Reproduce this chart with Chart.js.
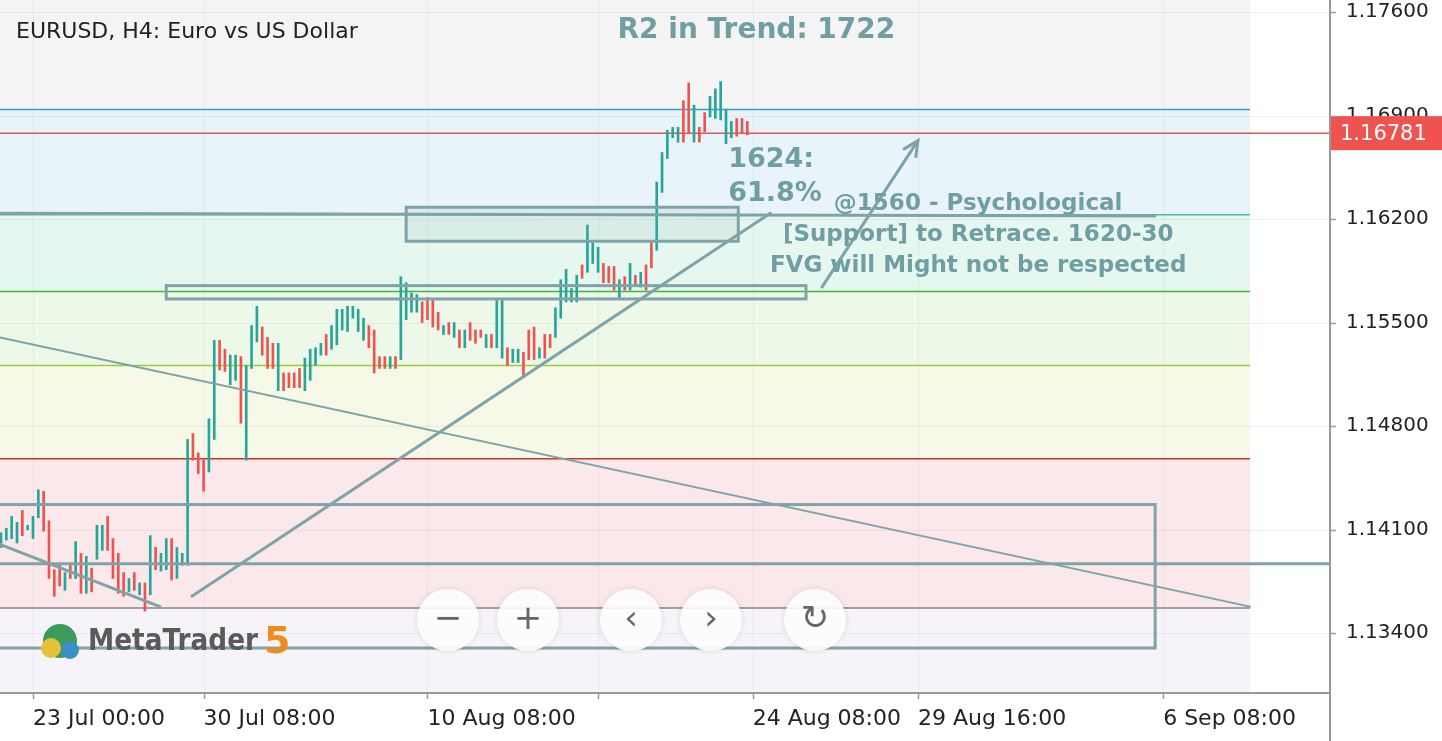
<!DOCTYPE html>
<html><head><meta charset="utf-8">
<script src="https://cdn.jsdelivr.net/npm/chart.js@4.4.0/dist/chart.umd.min.js"></script>
<style>html,body{margin:0;padding:0;background:#fff;overflow:hidden}#wrap{position:relative;width:1442px;height:741px}</style>
</head><body><div id="wrap"><canvas id="c" width="1442" height="741"></canvas></div>
<script>
const highs=[1.1408,1.1411,1.1419,1.1415,1.1423,1.1413,1.1419,1.1437,1.1436,1.1416,1.1383,1.1386,1.1381,1.1387,1.1402,1.1394,1.1392,1.1384,1.1413,1.1413,1.1419,1.1404,1.1394,1.1381,1.1377,1.1381,1.1374,1.1374,1.1406,1.1398,1.1394,1.1404,1.1404,1.1398,1.1394,1.1471,1.1475,1.1462,1.1457,1.1485,1.1538,1.1538,1.1532,1.1528,1.1528,1.1527,1.1521,1.1548,1.1561,1.1547,1.1540,1.1536,1.1536,1.1516,1.1516,1.1516,1.1519,1.1526,1.1532,1.1533,1.1536,1.1542,1.1548,1.1559,1.1559,1.1561,1.1561,1.1559,1.1553,1.1548,1.1545,1.1527,1.1527,1.1527,1.1527,1.1581,1.1577,1.1570,1.1569,1.1564,1.1567,1.1565,1.1557,1.1548,1.1550,1.1550,1.1545,1.1545,1.1550,1.1545,1.1545,1.1542,1.1542,1.1565,1.1565,1.1533,1.1532,1.1532,1.1530,1.1545,1.1547,1.1533,1.1542,1.1542,1.1560,1.1579,1.1586,1.1573,1.1582,1.1589,1.1616,1.1604,1.1601,1.1590,1.1588,1.1588,1.1579,1.1581,1.1590,1.1582,1.1584,1.1589,1.1604,1.1645,1.1665,1.1680,1.1682,1.1682,1.1700,1.1712,1.1697,1.1682,1.1692,1.1703,1.1708,1.1713,1.1694,1.1686,1.1688,1.1688,1.1686];
const lows=[1.1398,1.1403,1.1404,1.1401,1.1406,1.1410,1.1404,1.1418,1.1409,1.1377,1.1365,1.1372,1.1369,1.1377,1.1377,1.1367,1.1367,1.1368,1.1390,1.1396,1.1396,1.1377,1.1367,1.1365,1.1368,1.1369,1.1366,1.1355,1.1366,1.1383,1.1382,1.1383,1.1376,1.1377,1.1386,1.1386,1.1457,1.1448,1.1436,1.1449,1.1471,1.1518,1.1517,1.1508,1.1511,1.1482,1.1457,1.1519,1.1537,1.1528,1.1519,1.1519,1.1504,1.1504,1.1506,1.1506,1.1506,1.1504,1.1511,1.1521,1.1528,1.1528,1.1532,1.1535,1.1545,1.1544,1.1553,1.1544,1.1538,1.1533,1.1516,1.1519,1.1519,1.1519,1.1519,1.1525,1.1552,1.1557,1.1557,1.1550,1.1552,1.1547,1.1545,1.1542,1.1542,1.1540,1.1533,1.1533,1.1538,1.1536,1.1540,1.1533,1.1533,1.1533,1.1526,1.1521,1.1523,1.1523,1.1513,1.1525,1.1525,1.1526,1.1526,1.1533,1.1540,1.1553,1.1564,1.1564,1.1564,1.1580,1.1584,1.1590,1.1584,1.1577,1.1577,1.1572,1.1567,1.1572,1.1572,1.1575,1.1574,1.1572,1.1587,1.1599,1.1638,1.1661,1.1675,1.1672,1.1672,1.1678,1.1672,1.1672,1.1679,1.1689,1.1688,1.1687,1.1671,1.1675,1.1676,1.1678,1.1677];
const dirs="ggggrgggrrrrgrgrgrggrrrrgrgrgrggrgggrrrggrrggrgggrrrgrrrrggggrgggggggrrrrgrggggrrrrgrgrgrrrgrggrggrrrgrrgggggrgggrrrgrgrgrrgggggrrgrrgggggrrrgrr";
const xTickIdx=[6,38,80,112,141,172,218];
const xTickLabels=["23 Jul 00:00","30 Jul 08:00","10 Aug 08:00","","24 Aug 08:00","29 Aug 16:00","6 Sep 08:00"];
const yTicks=[1.134,1.141,1.148,1.155,1.162,1.169,1.176];
const currentPrice=1.16781;
const bandEdges=[1.17681,1.1694,1.1623,1.1571,1.1521,1.1458,1.1357,1.12996];
const bandFills=["#f4f4f4","#e9f3fa","#e6f7f0","#eef8e8","#f6f9e8","#fae8ea","#f6f4f8"];
const levelPrices=[1.1694,1.1623,1.1571,1.1521,1.1458,1.1357];
const levelColors=["#3b9ac4","#3cc79a","#3cb83c","#9acd32","#c0392b","#8c8088"];
const bandEndIdx=234.3;
const annoLines=[[-0.19,1.1540,234.3,1.1358,2],[-0.19,1.1624,216.5,1.1622,3],[-0.19,1.1387,249.3,1.1387,3],[35.8,1.1365,144.3,1.1624,3],[-0.19,1.1400,29.8,1.1358,3]];
const annoRects=[[76.0,1.1628,138.3,1.1605],[31.0,1.1575,151.0,1.1566],[-1.1,1.1427,216.5,1.1330]];
const arrowLine=[154.0,1.1574,172.0,1.1673];
const upC="#26a69a",dnC="#ef5350",annC="#7fa3a8";
const candles=highs.map((h,i)=>({x:i,y:[lows[i],h]}));
const F="'DejaVu Sans', Verdana, sans-serif";

const bg={id:'bg',beforeDatasetsDraw(ch){
  const c=ch.ctx,xs=ch.scales.x,ys=ch.scales.y,a=ch.chartArea;
  c.save();
  const xe=xs.getPixelForValue(bandEndIdx);
  for(let i=0;i<bandFills.length;i++){
    const y0=ys.getPixelForValue(bandEdges[i]),y1=ys.getPixelForValue(bandEdges[i+1]);
    c.fillStyle=bandFills[i];c.fillRect(a.left,y0,xe-a.left,y1-y0);
  }
  c.strokeStyle="rgba(0,0,0,0.05)";c.lineWidth=1;
  yTicks.forEach(t=>{const y=Math.round(ys.getPixelForValue(t))+0.5;c.beginPath();c.moveTo(a.left,y);c.lineTo(a.right,y);c.stroke();});
  xTickIdx.forEach(t=>{const x=Math.round(xs.getPixelForValue(t))+0.5;c.beginPath();c.moveTo(x,a.top);c.lineTo(x,a.bottom);c.stroke();});
  c.lineWidth=1.5;
  levelPrices.forEach((p,i)=>{const y=ys.getPixelForValue(p);c.strokeStyle=levelColors[i];c.beginPath();c.moveTo(a.left,y);c.lineTo(xe,y);c.stroke();});
  const yc=ys.getPixelForValue(currentPrice);c.strokeStyle="#e05555";c.beginPath();c.moveTo(a.left,yc);c.lineTo(a.right,yc);c.stroke();
  c.restore();
},
afterDatasetsDraw(ch){
  const c=ch.ctx,xs=ch.scales.x,ys=ch.scales.y,a=ch.chartArea;
  const X=v=>xs.getPixelForValue(v),Y=v=>ys.getPixelForValue(v);
  c.save();
  c.beginPath();c.rect(a.left,a.top,a.right-a.left,a.bottom-a.top);c.clip();
  c.strokeStyle=annC;c.lineCap="round";
  annoLines.forEach(l=>{c.lineWidth=l[4];c.beginPath();c.moveTo(X(l[0]),Y(l[1]));c.lineTo(X(l[2]),Y(l[3]));c.stroke();});
  c.lineWidth=3;
  annoRects.forEach((r,i)=>{const x0=X(r[0]),y0=Y(r[1]),x1=X(r[2]),y1=Y(r[3]);
    if(i==0){c.fillStyle="rgba(127,163,168,0.12)";c.fillRect(x0,y0,x1-x0,y1-y0);}
    c.strokeRect(x0,y0,x1-x0,y1-y0);});
  const ax0=X(arrowLine[0]),ay0=Y(arrowLine[1]),ax1=X(arrowLine[2]),ay1=Y(arrowLine[3]);
  c.lineWidth=3;c.beginPath();c.moveTo(ax0,ay0);c.lineTo(ax1,ay1);c.stroke();
  const ang=Math.atan2(ay1-ay0,ax1-ax0);
  c.beginPath();c.moveTo(ax1-16*Math.cos(ang-0.45),ay1-16*Math.sin(ang-0.45));c.lineTo(ax1,ay1);c.lineTo(ax1-16*Math.cos(ang+0.45),ay1-16*Math.sin(ang+0.45));c.stroke();
  c.fillStyle="#6f9ea3";c.textBaseline="middle";
  c.font="bold 28px "+F;c.textAlign="center";c.fillText("R2 in Trend: 1722",X(141.7),Y(1.1747));
  c.font="bold 27px "+F;c.textAlign="left";c.fillText("1624:",X(136.4),Y(1.1660));c.fillText("61.8%",X(136.4),Y(1.1637));
  c.font="bold 23px "+F;c.textAlign="center";
  c.fillText("@1560 - Psychological",X(183.3),Y(1.1630));
  c.fillText("[Support] to Retrace. 1620-30",X(183.3),Y(1.1609));
  c.fillText("FVG will Might not be respected",X(183.3),Y(1.1588));
  [[448,"−"],[528,"+"],[631,"‹"],[711,"›"],[815,"↻"]].forEach(b=>{
    c.fillStyle="rgba(255,255,255,0.9)";c.shadowColor="rgba(0,0,0,0.12)";c.shadowBlur=6;
    c.beginPath();c.arc(b[0],620,31,0,Math.PI*2);c.fill();c.shadowBlur=0;
    c.fillStyle="#666";c.font="34px "+F;c.textAlign="center";c.fillText(b[1],b[0],620);
  });
  c.fillStyle="#3c9a5b";c.beginPath();c.arc(60,641,17,0,Math.PI*2);c.fill();
  c.fillStyle="#e3c23a";c.beginPath();c.arc(51,648,10,0,Math.PI*2);c.fill();
  c.fillStyle="#3a8fc4";c.beginPath();c.arc(70,650,9,0,Math.PI*2);c.fill();
  c.font="bold 30px "+F;c.textAlign="left";c.fillStyle="#5a5a5a";
  const mt="MetaTrader";const w=c.measureText(mt).width;const sx=170/w;
  c.save();c.translate(88,642);c.scale(sx,1);c.fillText(mt,0,0);c.restore();
  c.fillStyle="#f08a1c";c.font="bold 38px "+F;c.fillText("5",264,643);
  c.restore();
  c.save();c.fillStyle="#222";c.font="22px "+F;c.textAlign="left";c.textBaseline="middle";c.fillText("EURUSD, H4: Euro vs US Dollar",16,32);
  const yc=Y(currentPrice);c.fillStyle="#ef5350";c.fillRect(a.right,yc-17,1442-a.right,34);
  c.fillStyle="#fff";c.font="21px "+F;c.fillText("1.16781",a.right+10,yc+1);
  c.strokeStyle="#999";c.lineWidth=2;c.beginPath();c.moveTo(a.right,0);c.lineTo(a.right,741);c.moveTo(0,a.bottom);c.lineTo(a.right,a.bottom);c.stroke();
  c.strokeStyle="#999";c.lineWidth=1.5;
  xTickIdx.forEach(t=>{const x=Math.round(X(t))+0.5;c.beginPath();c.moveTo(x,a.bottom);c.lineTo(x,a.bottom+6);c.stroke();});
  yTicks.forEach(t=>{const y=Math.round(Y(t))+0.5;c.beginPath();c.moveTo(a.right,y);c.lineTo(a.right+6,y);c.stroke();});
  c.restore();
}};

new Chart(document.getElementById('c'),{
  type:'bar',
  data:{datasets:[{data:candles,barThickness:2,backgroundColor:dirs.split('').map(d=>d=='g'?upC:dnC),borderWidth:0}]},
  plugins:[bg],
  options:{responsive:false,animation:false,layout:{padding:0},
    plugins:{legend:{display:false},tooltip:{enabled:false}},
    scales:{
      x:{type:'linear',min:-0.19,max:249.3,offset:false,grid:{display:false},border:{display:false},
        afterBuildTicks(s){s.ticks=xTickIdx.map(v=>({value:v}));},
        afterFit(s){s.height=48;s.paddingLeft=0;s.paddingRight=0;},
        ticks:{autoSkip:false,maxRotation:0,align:'start',color:'#222',font:{size:22,family:F},padding:5,callback:(v,i)=>xTickLabels[i]}},
      y:{position:'right',min:1.12996,max:1.17681,grid:{display:false,drawTicks:false},border:{display:false},
        afterBuildTicks(s){s.ticks=yTicks.map(v=>({value:v}));},
        afterFit(s){s.width=112;s.paddingTop=0;s.paddingBottom=0;},
        ticks:{color:'#222',font:{size:20,family:F},padding:16,callback:v=>v.toFixed(5)}}
    }}
});
</script></body></html>
